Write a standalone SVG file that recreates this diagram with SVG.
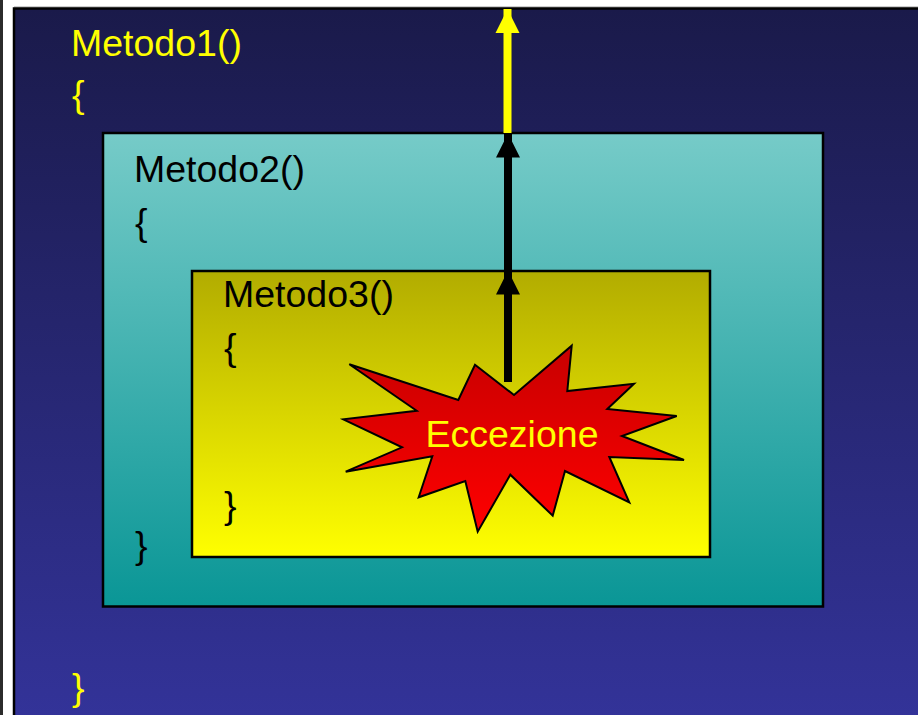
<svg xmlns="http://www.w3.org/2000/svg" width="918" height="715" viewBox="0 0 918 715">
  <defs>
    <linearGradient id="bgNavy" x1="0" y1="0" x2="0" y2="1">
      <stop offset="0" stop-color="#1a1a4a"/>
      <stop offset="1" stop-color="#333399"/>
    </linearGradient>
    <linearGradient id="gTeal" x1="0" y1="0" x2="0" y2="1">
      <stop offset="0" stop-color="#76cbc8"/>
      <stop offset="1" stop-color="#0a9696"/>
    </linearGradient>
    <linearGradient id="gYellow" x1="0" y1="0" x2="0" y2="1">
      <stop offset="0" stop-color="#b2ac00"/>
      <stop offset="1" stop-color="#ffff00"/>
    </linearGradient>
    <linearGradient id="gRed" x1="0" y1="0" x2="0" y2="1">
      <stop offset="0" stop-color="#c80000"/>
      <stop offset="1" stop-color="#ff0000"/>
    </linearGradient>
    <marker id="headYellow" markerUnits="userSpaceOnUse" markerWidth="26" markerHeight="26" refX="24" refY="13" orient="auto">
      <path d="M0,1 L24,13 L0,25 Z" fill="#ffff00"/>
    </marker>
    <marker id="headBlack" markerUnits="userSpaceOnUse" markerWidth="26" markerHeight="26" refX="24" refY="13" orient="auto">
      <path d="M0,1 L24,13 L0,25 Z" fill="#000000"/>
    </marker>
  </defs>
  <style>
    text { font-family: "Liberation Sans", Arial, sans-serif; font-size: 37.5px; }
    .yl { fill: #ffff00; }
    .bk { fill: #000000; }
    .box { stroke: #000000; stroke-width: 2.5; }
    .shaft { stroke-width: 8; fill: none; }
  </style>

  <!-- page -->
  <rect x="0" y="0" width="918" height="715" fill="#ffffff"/>
  <rect x="0" y="0" width="3" height="715" fill="#2b2b2b"/>
  <line x1="14" y1="7" x2="918" y2="7" stroke="#9a9a9a" stroke-width="1"/>
  <rect x="14" y="8.5" width="910" height="712" fill="url(#bgNavy)" stroke="#000000" stroke-width="2.5"/>

  <g id="metodo1">
    <text class="yl" x="71" y="56">Metodo1()</text>
    <text class="yl" x="72" y="107">{</text>
    <text class="yl" x="72" y="700">}</text>
  </g>

  <g id="metodo2">
    <rect class="box" x="103" y="133" width="720" height="473.5" fill="url(#gTeal)"/>
    <text class="bk" x="134" y="182">Metodo2()</text>
    <text class="bk" x="135" y="235">{</text>
    <text class="bk" x="135" y="558">}</text>
  </g>

  <g id="metodo3">
    <rect class="box" x="192" y="271" width="518" height="286" fill="url(#gYellow)"/>
    <text class="bk" x="223" y="307">Metodo3()</text>
    <text class="bk" x="224" y="360">{</text>
    <text class="bk" x="224" y="518">}</text>
  </g>

  <g id="connectors">
    <line class="shaft" x1="508" y1="382" x2="508" y2="270.5" stroke="#000000" marker-end="url(#headBlack)"/>
    <line class="shaft" x1="508" y1="271" x2="508" y2="133.5" stroke="#000000" marker-end="url(#headBlack)"/>
    <line class="shaft" x1="507.5" y1="133" x2="507.5" y2="9" stroke="#ffff00" marker-end="url(#headYellow)"/>
  </g>

  <g id="eccezione">
    <polygon points="349.3,364.3 458.3,400 475,364.7 514,395 571.7,345.7 567.3,391 634,383.7 607.3,409 676.7,416 622,436 684,460 609.3,457 629.3,502.3 565,471 552.7,515.7 510.3,474.7 477.7,531.7 465.3,481 418.7,497.3 432.3,456.3 345.7,471.7 402,447.3 343.3,419.3 416.7,410.7" fill="url(#gRed)" stroke="#000000" stroke-width="2" stroke-linejoin="miter"/>
    <text class="yl" x="512" y="446.5" text-anchor="middle">Eccezione</text>
  </g>
</svg>
